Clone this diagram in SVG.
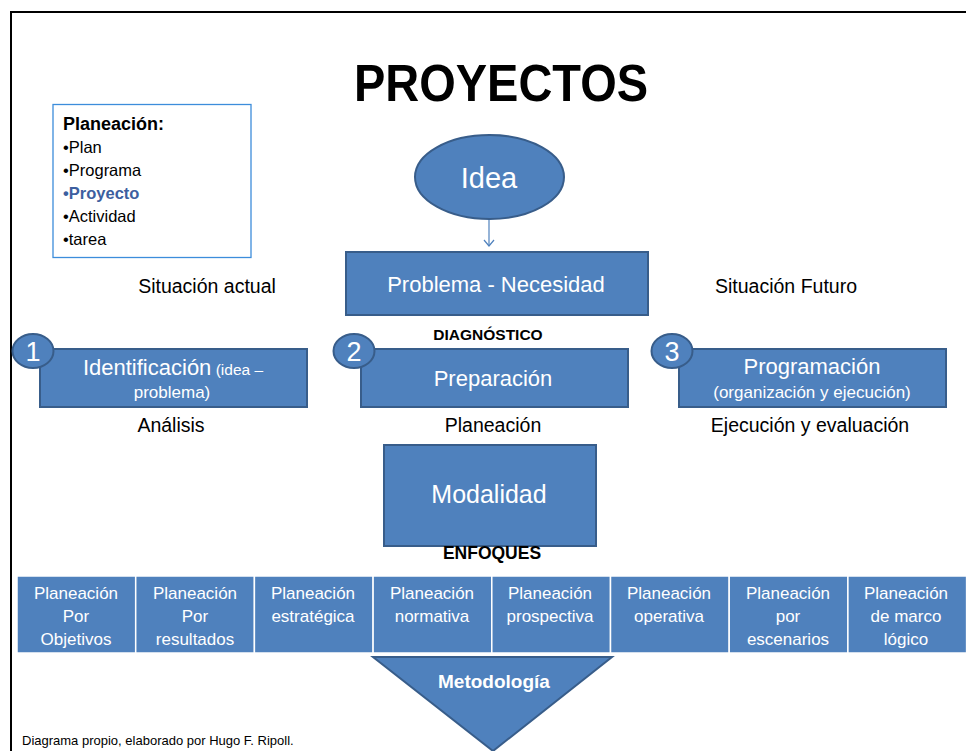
<svg xmlns="http://www.w3.org/2000/svg" width="966" height="751" viewBox="0 0 966 751">
<defs>
<style>
text{font-family:"Liberation Sans",Arial,sans-serif;}
.shape{fill:#4f81bd;stroke:#385d8a;stroke-width:2;}
.cell{fill:#4f81bd;stroke:#ffffff;stroke-width:1.5;}
.w{fill:#ffffff;}
.k{fill:#000000;}
.mid{text-anchor:middle;}
.b{font-weight:bold;}
.lbl{font-size:19.5px;}
.cellt{font-size:17px;fill:#ffffff;text-anchor:middle;}
.num{font-size:27px;fill:#ffffff;text-anchor:middle;}
</style>
<marker id="arr" viewBox="0 0 12 12" refX="11" refY="6" markerWidth="12" markerHeight="12" markerUnits="userSpaceOnUse" orient="auto">
<path d="M5,1 L11,6 L5,11" fill="none" stroke="#4f81bd" stroke-width="1.2"/>
</marker>
</defs>
<rect x="0" y="0" width="966" height="751" fill="#ffffff"/>
<rect x="11" y="12" width="1000" height="1000" fill="none" stroke="#000000" stroke-width="2"/>

<g id="title">
<text x="501" y="101" class="k b mid" font-size="52" textLength="294" lengthAdjust="spacingAndGlyphs">PROYECTOS</text>
</g>

<g id="planeacion-list">
<rect x="53" y="104.5" width="198" height="153" fill="#ffffff" stroke="#3c8ddb" stroke-width="1.3"/>
<text x="63" y="130" class="k b" font-size="18">Planeación:</text>
<text x="63" y="153" class="k" font-size="16.5">•Plan</text>
<text x="63" y="176" class="k" font-size="16.5">•Programa</text>
<text x="63" y="199" class="b" font-size="16.5" fill="#3d5f9f">•Proyecto</text>
<text x="63" y="222" class="k" font-size="16.5">•Actividad</text>
<text x="63" y="245" class="k" font-size="16.5">•tarea</text>
</g>

<g id="connectors">
<line x1="489" y1="219" x2="489" y2="246" stroke="#4f81bd" stroke-width="1.2" marker-end="url(#arr)"/>
</g>

<g id="idea">
<ellipse cx="489.5" cy="177" rx="74.5" ry="42" class="shape"/>
<text x="489" y="188" class="w mid" font-size="29">Idea</text>
</g>

<g id="problema">
<rect x="346" y="252" width="302" height="63" class="shape"/>
<text x="496" y="292" class="w mid" font-size="22">Problema - Necesidad</text>
</g>

<g id="situacion-actual"><text x="207" y="293" class="k mid lbl">Situación actual</text></g>
<g id="situacion-futuro"><text x="786" y="293" class="k mid lbl">Situación Futuro</text></g>
<g id="diagnostico"><text x="488" y="340" class="k b mid" font-size="15.5">DIAGNÓSTICO</text></g>

<g id="identificacion">
<rect x="40" y="349" width="267" height="58" class="shape"/>
<ellipse cx="33" cy="351" rx="20.5" ry="17" class="shape"/>
<text x="33" y="361" class="num">1</text>
<text x="173" y="375" class="w mid"><tspan font-size="22">Identificación</tspan><tspan font-size="15.5"> (idea –</tspan></text>
<text x="172" y="398" class="w mid" font-size="17">problema)</text>
</g>

<g id="preparacion">
<rect x="361" y="349" width="267" height="58" class="shape"/>
<ellipse cx="354" cy="351" rx="20.5" ry="17" class="shape"/>
<text x="354" y="361" class="num">2</text>
<text x="493" y="386" class="w mid" font-size="22">Preparación</text>
</g>

<g id="programacion">
<rect x="679" y="349" width="267" height="58" class="shape"/>
<ellipse cx="672" cy="351" rx="20.5" ry="17" class="shape"/>
<text x="672" y="361" class="num">3</text>
<text x="812" y="374" class="w mid" font-size="22">Programación</text>
<text x="812" y="398" class="w mid" font-size="17">(organización y ejecución)</text>
</g>

<g id="analisis"><text x="171" y="432" class="k mid lbl">Análisis</text></g>
<g id="planeacion-lbl"><text x="493" y="432" class="k mid lbl">Planeación</text></g>
<g id="ejecucion"><text x="810" y="432" class="k mid lbl">Ejecución y evaluación</text></g>

<g id="modalidad">
<rect x="384" y="445" width="212" height="101" class="shape"/>
<text x="489" y="503" class="w mid" font-size="25">Modalidad</text>
</g>

<g id="enfoques"><text x="492" y="559" class="k b mid" font-size="17.5">ENFOQUES</text></g>

<g id="enfoques-table">
<rect x="17" y="576" width="118.7" height="77" class="cell"/>
<rect x="135.7" y="576" width="118.7" height="77" class="cell"/>
<rect x="254.4" y="576" width="118.7" height="77" class="cell"/>
<rect x="373.1" y="576" width="118.7" height="77" class="cell"/>
<rect x="491.8" y="576" width="118.7" height="77" class="cell"/>
<rect x="610.5" y="576" width="118.7" height="77" class="cell"/>
<rect x="729.2" y="576" width="118.7" height="77" class="cell"/>
<rect x="847.9" y="576" width="118.7" height="77" class="cell"/>
<text class="cellt" x="76" y="599">Planeación</text>
<text class="cellt" x="76" y="622">Por</text>
<text class="cellt" x="76" y="645">Objetivos</text>
<text class="cellt" x="195" y="599">Planeación</text>
<text class="cellt" x="195" y="622">Por</text>
<text class="cellt" x="195" y="645">resultados</text>
<text class="cellt" x="313" y="599">Planeación</text>
<text class="cellt" x="313" y="622">estratégica</text>
<text class="cellt" x="432" y="599">Planeación</text>
<text class="cellt" x="432" y="622">normativa</text>
<text class="cellt" x="550" y="599">Planeación</text>
<text class="cellt" x="550" y="622">prospectiva</text>
<text class="cellt" x="669" y="599">Planeación</text>
<text class="cellt" x="669" y="622">operativa</text>
<text class="cellt" x="788" y="599">Planeación</text>
<text class="cellt" x="788" y="622">por</text>
<text class="cellt" x="788" y="645">escenarios</text>
<text class="cellt" x="906" y="599">Planeación</text>
<text class="cellt" x="906" y="622">de marco</text>
<text class="cellt" x="906" y="645">lógico</text>
</g>

<g id="metodologia">
<polygon points="373,657 612,657 493,751" class="shape"/>
<text x="494" y="688" class="w b mid" font-size="19">Metodología</text>
</g>

<g id="footer"><text x="22" y="745" class="k" font-size="13">Diagrama propio,  elaborado por Hugo F. Ripoll.</text></g>
</svg>
